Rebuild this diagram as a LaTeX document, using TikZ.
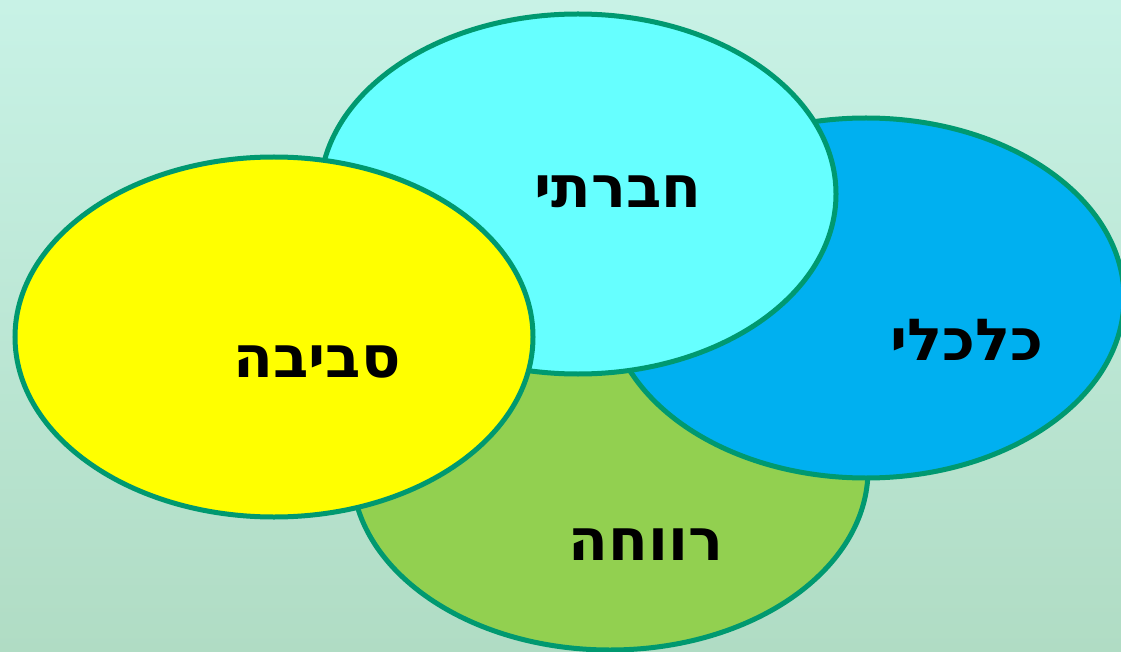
\documentclass[tikz,border=0pt]{standalone}
\usepackage{fontspec}
\newfontfamily\hebfont[Script=Hebrew]{DejaVu Sans}
\TeXXeTstate=1
\usetikzlibrary{positioning}

\definecolor{bgtop}{RGB}{200,242,230}
\definecolor{bgbottom}{RGB}{176,220,196}
\definecolor{rim}{RGB}{0,153,112}
\definecolor{sunny}{RGB}{255,255,0}
\definecolor{aqua}{RGB}{102,255,255}
\definecolor{sky}{RGB}{0,176,240}
\definecolor{leaf}{RGB}{146,208,80}

\begin{document}
\begin{tikzpicture}[
x=1pt, y=-1pt,
blob/.style={draw=rim, line width=5pt},
every node/.style={
font=\hebfont\bfseries\fontsize{58}{64}\selectfont,
inner sep=0pt
}
]

\useasboundingbox (0,0) rectangle (1121,652);
\shade[top color=bgtop, bottom color=bgbottom] (0,0) rectangle (1121,652);

% circles, back to front
\filldraw[blob, fill=leaf] (610,470) ellipse [x radius=258, y radius=180];
\filldraw[blob, fill=sky] (866,298) ellipse [x radius=258, y radius=180];
\filldraw[blob, fill=aqua] (578,194) ellipse [x radius=258, y radius=180];
\filldraw[blob, fill=sunny] (274,337) ellipse [x radius=259, y radius=180];

% labels
\node (social) at (618,192) {\beginR חברתי\endR};
\node (economic) at (967,340) {\beginR כלכלי\endR};
\node (environment) at (317,362) {\beginR סביבה\endR};
\node (welfare) at (646,545) {\beginR רווחה\endR};

\end{tikzpicture}
\end{document}
